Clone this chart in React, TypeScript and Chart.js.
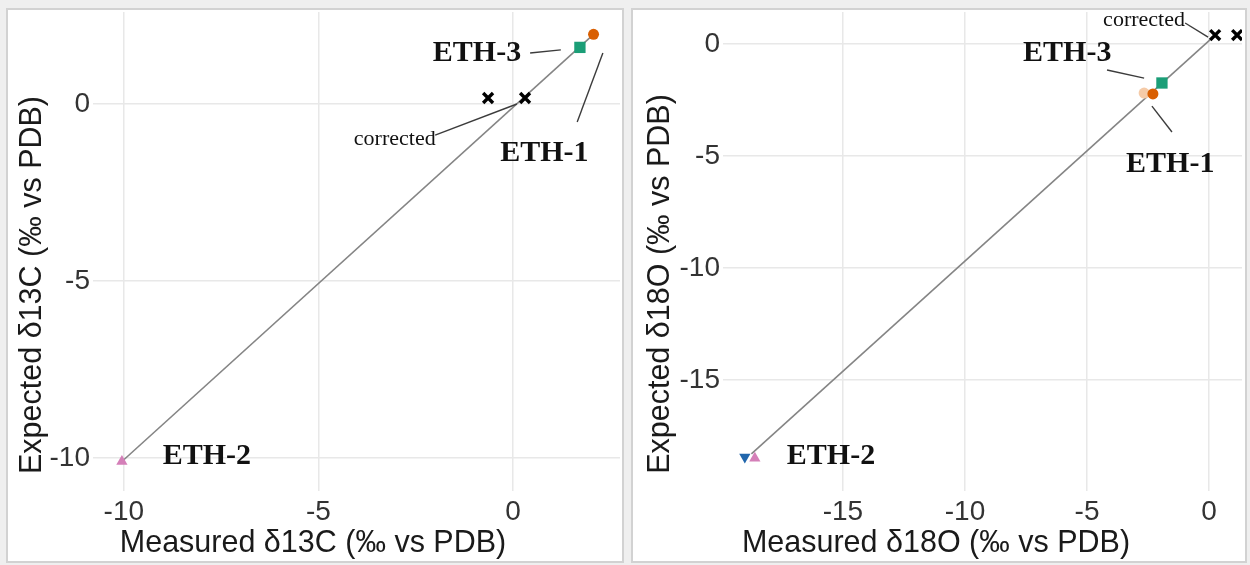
import React, { useEffect, useRef } from "react";
import { Chart, registerables } from "chart.js";

Chart.register(...registerables);

// ---------- shared sample info ----------
const sampleNames = ["ETH-1", "ETH-2", "ETH-3"];
const sampleColors = ["#D95F02", "#D47FB8", "#1B9E77"];
const sampleShapes = ["circle", "triangle", "rect"];

// ---------- δ13C panel ----------
const c13Measured = [2.07, -10.05, 1.72];
const c13Expected = [1.97, -10.1, 1.6];
const c13CorrX = [-0.64, 0.31];
const c13CorrY = [0.17, 0.17];
const c13FitX = [-10.05, 2.07];
const c13FitY = [-10.1, 1.97];
const c13Range = { xMin: -10.69, xMax: 2.75, yMin: -10.82, yMax: 2.6 };
const c13LabelText = ["ETH-3", "ETH-1", "ETH-2", "corrected"];
const c13LabelX = [-2.06, -0.33, -9.0, -4.09];
const c13LabelY = [1.21, -1.61, -10.17, -1.16];
const c13LeadX1 = [0.44, 2.31, -2.0];
const c13LeadY1 = [1.44, 1.44, -0.88];
const c13LeadX2 = [1.23, 1.65, 0.1];
const c13LeadY2 = [1.53, -0.51, 0.0];

// ---------- δ18O panel ----------
const o18Measured = [-2.3, -18.61, -1.93];
const o18Expected = [-2.23, -18.5, -1.74];
const o18RawETH1 = { x: -2.66, y: -2.19 };
const o18RawETH2 = { x: -19.02, y: -18.44 };
const o18CorrX = [0.25, 1.15];
const o18CorrY = [0.4, 0.4];
const o18FitX = [-18.75, 0.15];
const o18FitY = [-18.3, 0.3];
const o18Range = { xMin: -19.75, xMax: 1.35, yMin: -19.78, yMax: 1.43 };
const o18LabelText = ["ETH-3", "ETH-1", "ETH-2", "corrected"];
const o18LabelX = [-7.62, -3.4, -17.3, -4.34];
const o18LabelY = [-0.76, -5.71, -18.75, 0.8];
const o18LeadX1 = [-4.18, -2.34, -0.98];
const o18LeadY1 = [-1.16, -2.77, 0.94];
const o18LeadX2 = [-2.66, -1.52, -0.04];
const o18LeadY2 = [-1.52, -3.93, 0.31];

const SANS = '"Liberation Sans", Arial, sans-serif';
const SERIF = '"Liberation Serif", "Times New Roman", serif';

const annotate = {
  id: "annotate",
  afterDatasetsDraw(chart: any, _a: any, opts: any) {
    const { ctx } = chart;
    const xs = chart.scales.x;
    const ys = chart.scales.y;
    ctx.save();
    // leader lines
    ctx.strokeStyle = "#3c3c3c";
    ctx.lineWidth = 1.4;
    for (let i = 0; i < opts.lx1.length; i++) {
      ctx.beginPath();
      ctx.moveTo(xs.getPixelForValue(opts.lx1[i]), ys.getPixelForValue(opts.ly1[i]));
      ctx.lineTo(xs.getPixelForValue(opts.lx2[i]), ys.getPixelForValue(opts.ly2[i]));
      ctx.stroke();
    }
    // labels
    ctx.fillStyle = "#111";
    ctx.textAlign = "left";
    ctx.textBaseline = "alphabetic";
    for (let i = 0; i < opts.text.length; i++) {
      const t = opts.text[i];
      ctx.font = t === "corrected" ? `22px ${SERIF}` : `bold 30px ${SERIF}`;
      ctx.fillText(t, xs.getPixelForValue(opts.tx[i]), ys.getPixelForValue(opts.ty[i]));
    }
    // axis titles
    ctx.font = `30.5px ${SANS}`;
    ctx.fillStyle = "#1a1a1a";
    ctx.textAlign = "center";
    ctx.fillText(opts.xTitle, opts.xTitlePos[0], opts.xTitlePos[1]);
    ctx.translate(opts.yTitlePos[0], opts.yTitlePos[1]);
    ctx.rotate(-Math.PI / 2);
    ctx.fillText(opts.yTitle, 0, 0);
    ctx.restore();
  },
};

function makeConfig(p: any) {
  const pts = (xs: number[], ys: number[]) => xs.map((x, i) => ({ x, y: ys[i] }));
  const datasets: any[] = [
    {
      label: "fit",
      data: pts(p.fitX, p.fitY),
      showLine: true,
      borderColor: "#858585",
      borderWidth: 1.6,
      pointRadius: 0,
      order: 10,
    },
  ];
  (p.extra || []).forEach((e: any) => datasets.push(e));
  sampleNames.forEach((name, i) => {
    datasets.push({
      label: name,
      data: [{ x: p.measured[i], y: p.expected[i] }],
      pointStyle: sampleShapes[i],
      backgroundColor: sampleColors[i],
      borderColor: sampleColors[i],
      borderWidth: 0,
      pointRadius: sampleShapes[i] === "rect" ? 8 : sampleShapes[i] === "triangle" ? 6.5 : 5.5,
      order: 1,
    });
  });
  datasets.push({
    label: "corrected",
    data: pts(p.corrX, p.corrY),
    pointStyle: "crossRot",
    borderColor: "#000",
    backgroundColor: "#000",
    borderWidth: 3.4,
    pointRadius: 7,
    order: 0,
  });
  const axis = (min: number, max: number, isX: boolean, size: number, pad: number) => ({
    type: "linear",
    min,
    max,
    afterFit: (s: any) => {
      if (isX) s.height = size;
      else s.width = size;
      s.paddingTop = 0;
      s.paddingBottom = 0;
      s.paddingLeft = 0;
      s.paddingRight = 0;
    },
    ticks: {
      stepSize: 5,
      includeBounds: false,
      color: "#333",
      padding: pad,
      font: { family: SANS, size: 28 },
    },
    grid: { color: "#e8e8e8", lineWidth: 1.5, tickLength: 4, tickColor: "#e8e8e8" },
    border: { display: false },
  });
  return {
    type: "scatter",
    data: { datasets },
    plugins: [annotate],
    options: {
      animation: false,
      responsive: false,
      devicePixelRatio: 1,
      layout: { autoPadding: false, padding: { top: 2, right: p.rightPad, left: 0, bottom: 0 } },
      plugins: {
        legend: { display: false },
        tooltip: { enabled: false },
        annotate: {
          text: p.labelText,
          tx: p.labelX,
          ty: p.labelY,
          lx1: p.leadX1,
          ly1: p.leadY1,
          lx2: p.leadX2,
          ly2: p.leadY2,
          xTitle: p.xTitle,
          yTitle: p.yTitle,
          xTitlePos: p.xTitlePos,
          yTitlePos: p.yTitlePos,
        },
      },
      scales: {
        x: axis(p.range.xMin, p.range.xMax, true, 74, 4),
        y: axis(p.range.yMin, p.range.yMax, false, p.yAxisWidth, 3),
      },
    },
  };
}

function Panel({ left, width, cfg }: any) {
  const ref = useRef<HTMLCanvasElement>(null);
  useEffect(() => {
    const chart = new Chart(ref.current as HTMLCanvasElement, makeConfig(cfg) as any);
    return () => chart.destroy();
  }, []);
  return (
    <div
      style={{
        position: "absolute",
        left,
        top: 8,
        width,
        height: 555,
        border: "2px solid #d2d2d2",
        boxSizing: "border-box",
        background: "#fff",
      }}
    >
      <canvas ref={ref} width={width - 4} height={551} style={{ display: "block" }} />
    </div>
  );
}

const leftCfg = {
  measured: c13Measured,
  expected: c13Expected,
  corrX: c13CorrX,
  corrY: c13CorrY,
  fitX: c13FitX,
  fitY: c13FitY,
  range: c13Range,
  labelText: c13LabelText,
  labelX: c13LabelX,
  labelY: c13LabelY,
  leadX1: c13LeadX1,
  leadY1: c13LeadY1,
  leadX2: c13LeadX2,
  leadY2: c13LeadY2,
  xTitle: "Measured δ13C (‰ vs PDB)",
  yTitle: "Expected δ13C (‰ vs PDB)",
  xTitlePos: [305, 542],
  yTitlePos: [33, 275],
  yAxisWidth: 89,
  rightPad: 2,
};

const rightCfg = {
  measured: o18Measured,
  expected: o18Expected,
  corrX: o18CorrX,
  corrY: o18CorrY,
  fitX: o18FitX,
  fitY: o18FitY,
  range: o18Range,
  labelText: o18LabelText,
  labelX: o18LabelX,
  labelY: o18LabelY,
  leadX1: o18LeadX1,
  leadY1: o18LeadY1,
  leadX2: o18LeadX2,
  leadY2: o18LeadY2,
  xTitle: "Measured δ18O (‰ vs PDB)",
  yTitle: "Expected δ18O (‰ vs PDB)",
  xTitlePos: [303, 542],
  yTitlePos: [36, 274],
  yAxisWidth: 94,
  rightPad: 3,
  extra: [
    {
      label: "ETH-1 raw",
      data: [o18RawETH1],
      pointStyle: "circle",
      backgroundColor: "#F5CBA8",
      borderWidth: 0,
      pointRadius: 5.5,
      order: 5,
    },
    {
      label: "ETH-2 raw",
      data: [o18RawETH2],
      pointStyle: "triangle",
      rotation: 180,
      backgroundColor: "#2166AC",
      borderWidth: 0,
      pointRadius: 6.5,
      order: 5,
    },
  ],
};

export default function App() {
  return (
    <div
      style={{
        position: "absolute",
        left: 0,
        top: 0,
        width: 1250,
        height: 565,
        background: "#efefef",
        overflow: "hidden",
      }}
    >
      <Panel left={6} width={618} cfg={leftCfg} />
      <Panel left={631} width={616} cfg={rightCfg} />
    </div>
  );
}
